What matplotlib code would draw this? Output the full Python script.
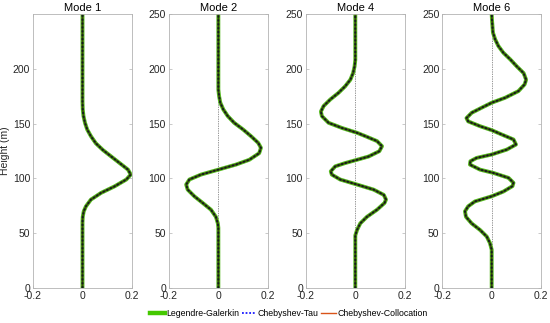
import matplotlib as mpl
mpl.use('Agg')
import matplotlib.pyplot as plt
from matplotlib.lines import Line2D

plt.rcParams['font.family'] = ['Liberation Sans', 'DejaVu Sans']

# values (height in m, amplitude)
mode1_h = [0, 30, 60, 65, 70, 74.6, 80.7, 86.8, 92.8, 99, 103.5, 108, 114,
           120, 126, 132, 138.5, 144.6, 150.7, 156.8, 163, 170, 200, 250]
mode1_v = [0, 0, 0, 0.001, 0.005, 0.014, 0.034, 0.075, 0.13, 0.177, 0.195,
           0.184, 0.15, 0.116, 0.082, 0.054, 0.034, 0.019, 0.01, 0.004,
           0.001, 0, 0, 0]

mode2_h = [0, 30, 55, 59, 65, 71.5, 77.6, 83.7, 89.8, 94.4, 99, 103.5, 108,
           112.6, 117, 123, 127.9, 132.4, 138.5, 144.6, 150.7, 156.8,
           162.9, 169, 175, 181, 250]
mode2_v = [0, 0, 0, -0.002, -0.01, -0.03, -0.063, -0.097, -0.124, -0.13,
           -0.117, -0.07, 0, 0.071, 0.125, 0.165, 0.172, 0.161, 0.132, 0.1,
           0.064, 0.038, 0.02, 0.008, 0.003, 0, 0]

mode4_h = [0, 30, 48, 53, 59, 65, 71.5, 77.6, 80.7, 85, 89.8, 94.4, 99,
           103.5, 106.5, 111, 114, 117, 120, 124.8, 129.4, 134, 138.5,
           141.6, 146, 150.7, 156.8, 161, 166, 172, 178, 184, 190, 196, 202,
           208, 250]
mode4_v = [0, 0, 0, 0.007, 0.02, 0.047, 0.088, 0.118, 0.124, 0.115, 0.074,
           0.007, -0.061, -0.095, -0.099, -0.081, -0.041, 0.007, 0.054,
           0.097, 0.108, 0.088, 0.041, 0.007, -0.054, -0.108, -0.135,
           -0.139, -0.128, -0.101, -0.068, -0.041, -0.02, -0.009, -0.003,
           0, 0]

mode6_h = [0, 20, 35, 41, 47, 53, 59, 65, 70, 74.6, 79, 83.7, 88, 93, 96,
           100.5, 105, 108, 112.6, 115.7, 118.7, 121.8, 126.3, 130.9,
           135.5, 140, 144, 147.6, 152, 155, 159.8, 164.4, 169, 173.5,
           179.6, 185.7, 190, 196, 202, 208.5, 214.6, 220.7, 226.8, 232.9,
           239, 245, 250]
mode6_v = [0, 0, 0, -0.007, -0.02, -0.047, -0.081, -0.104, -0.108, -0.095,
           -0.068, 0, 0.047, 0.084, 0.088, 0.068, 0.007, -0.047, -0.088,
           -0.086, -0.061, 0, 0.061, 0.098, 0.088, 0.041, 0, -0.047, -0.095,
           -0.102, -0.081, -0.041, 0, 0.054, 0.108, 0.133, 0.139, 0.129,
           0.102, 0.075, 0.047, 0.027, 0.014, 0.005, 0.003, 0.001, 0]

titles = ['Mode 1', 'Mode 2', 'Mode 4', 'Mode 6']
heights = [mode1_h, mode2_h, mode4_h, mode6_h]
values = [mode1_v, mode2_v, mode4_v, mode6_v]
xticks = [-0.2, 0, 0.2]
xticklabels = ['-0.2', '0', '0.2']
methods = ['Legendre-Galerkin', 'Chebyshev-Tau', 'Chebyshev-Collocation']

green = '#44c800'
blue = '#1a1aff'
red = '#d95319'
grey = '#b3b3b3'
txt = '#262626'

fig = plt.figure(figsize=(5.5, 3.23), dpi=100)
lefts = [0.06, 0.307, 0.556, 0.804]

for i in range(4):
    ax = fig.add_axes([lefts[i], 0.108, 0.18, 0.849])
    h, v = heights[i], values[i]
    if i > 0:
        ax.axvline(0, color='#333333', lw=0.5, ls=(0, (1, 1.5)))
    # the three solutions overlap, giving a dark core on the green line
    ax.plot(v, h, color='#55b820', lw=2.8, solid_capstyle='butt')
    ax.plot(v, h, color='#3a4a08', lw=1.3)
    ax.plot(v, h, color='#121a20', lw=1.4, ls=(0, (1, 1)))
    ax.set_xlim(-0.2, 0.2)
    ax.set_ylim(0, 250)
    ax.set_xticks(xticks)
    ax.set_xticklabels(xticklabels)
    if i == 0:
        ax.set_yticks([0, 50, 100, 150, 200])
        ax.set_ylabel('Height (m)', fontsize=7.5, color=txt, labelpad=2)
    else:
        ax.set_yticks([0, 50, 100, 150, 200, 250])
    ax.set_title(titles[i], fontsize=8, color='black', pad=2)
    ax.tick_params(direction='in', length=2.5, width=0.5, color=grey,
                   labelsize=7.5, labelcolor=txt, top=True, right=True, pad=2)
    for s in ax.spines.values():
        s.set_color(grey)
        s.set_linewidth(0.6)

handles = [Line2D([], [], color=green, lw=3.2),
           Line2D([], [], color=blue, lw=1.3, ls=(0, (1, 1))),
           Line2D([], [], color=red, lw=1.0)]
fig.legend(handles, methods, loc='center', bbox_to_anchor=(0.525, 0.03),
           ncol=3, frameon=False, fontsize=6.3, handlelength=1.7,
           handletextpad=0.15, columnspacing=0.25, borderpad=0)

fig.savefig('out.png', dpi=100)
